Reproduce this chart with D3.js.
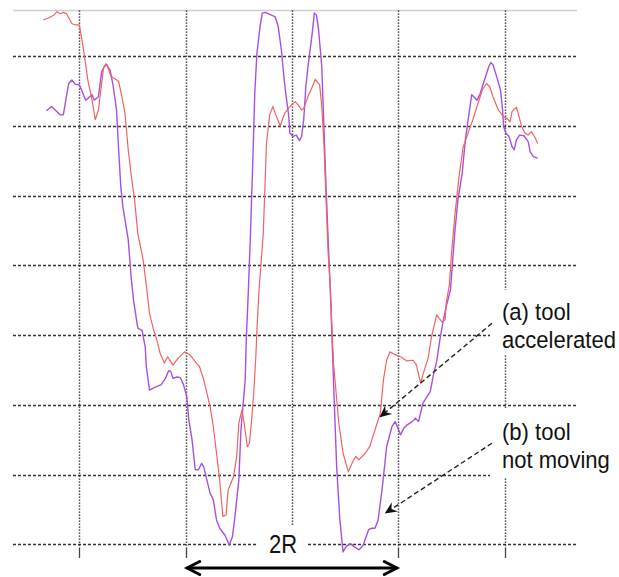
<!DOCTYPE html>
<html>
<head>
<meta charset="utf-8">
<script src="https://cdn.jsdelivr.net/npm/d3@7"></script>
<style>
  html, body { margin: 0; padding: 0; background: #fff; }
  svg { display: block; font-family: "Liberation Sans", Arial, sans-serif; }
</style>
</head>
<body>
<svg id="chart" width="619" height="577"></svg>
<script>
// [position, level] pairs (grid units)
const notMoving = [
  [-3.1,62.2],[-2.6,62.8],[-1.8,61.6],[-1.5,61.6],[-1.0,66.1],[-0.7,66.6],[-0.4,66.0],[0,65.9],
  [0.2,65.2],[0.6,63.7],[1.2,64.5],[1.4,63.7],[1.8,64.2],[2.1,67.8],[2.5,68.9],[2.9,68.0],
  [3.2,65.6],[3.5,62.3],[3.7,56.6],[3.9,51.3],[4.1,48.4],[4.6,43.7],[4.9,37.9],[5.1,35.0],
  [5.5,31.0],[5.9,30.7],[6.2,28.3],[6.3,25.5],[6.6,22.1],[7.1,22.5],[7.7,22.9],[8.1,23.8],
  [8.4,24.9],[8.6,24.8],[8.8,23.8],[9.2,24.0],[9.5,23.9],[9.8,22.9],[10.1,21.2],[10.3,17.8],
  [10.6,15.0],[10.9,10.7],[11.2,10.7],[11.5,11.6],[11.7,11.1],[12.0,9.2],[12.3,7.3],[12.6,6.4],
  [12.9,3.5],[13.2,2.3],[13.7,1.3],[14.1,-0.1],[14.4,1.1],[14.6,3.5],[15.0,9.2],[15.2,16.4],
  [15.4,20.0],[15.6,23.6],[15.7,29.3],[15.9,36.5],[16.1,44.7],[16.3,54.2],[16.5,64.7],[16.7,70.4],
  [17.0,74.3],[17.2,76.2],[17.5,76.3],[17.9,76.0],[18.4,75.7],[18.7,74.3],[19.0,70.9],[19.3,66.1],
  [19.7,61.3],[19.8,59.0],[20.1,58.5],[20.4,58.7],[20.7,57.9],[20.9,58.5],[21.1,60.9],[21.3,65.6],
  [21.5,68.5],[21.9,73.3],[22.1,76.2],[22.3,75.9],[22.5,73.8],[22.8,68.5],[23.0,59.9],[23.2,51.3],
  [23.4,43.7],[23.6,36.5],[23.9,23.6],[24.2,11.1],[24.5,3.5],[24.8,-1.1],[25.1,-0.3],[25.5,0.1],
  [25.8,-0.3],[26.3,-0.8],[26.7,-0.1],[27.2,2.1],[27.5,2.3],[27.8,2.3],[28.1,3.5],[28.5,8.3],
  [28.9,14.0],[29.4,16.9],[29.7,17.6],[29.9,16.9],[30.2,15.7],[30.5,16.6],[30.8,17.1],[31.3,17.6],
  [31.6,18.1],[31.9,17.6],[32.3,20.2],[32.7,21.2],[33.0,21.9],[33.3,24.3],[33.6,26.2],[33.9,29.3],
  [34.2,31.9],[34.5,34.1],[34.9,36.5],[35.3,44.6],[35.6,49.4],[36.0,53.2],[36.3,58.0],[36.6,61.3],
  [36.9,64.5],[37.1,64.2],[37.4,63.7],[37.7,64.7],[38.1,66.6],[38.5,68.5],[38.7,69.1],[38.9,68.8],
  [39.2,67.3],[39.6,65.2],[39.8,62.3],[39.9,59.9],[40.1,59.0],[40.4,58.5],[40.7,57.0],[40.9,56.6],
  [41.1,58.0],[41.4,58.7],[41.8,58.6],[42.2,57.8],[42.4,56.3],[42.7,55.6],[43.1,55.4]
];
const accelerated = [
  [-3.4,75.2],[-2.9,75.5],[-2.4,75.9],[-2.1,76.4],[-1.8,76.1],[-1.5,76.3],[-1.2,76.1],[-0.7,74.7],
  [-0.4,74.5],[0,74.5],[0.2,72.8],[0.5,69.9],[0.8,66.6],[1.2,63.7],[1.5,60.9],[1.8,62.3],
  [2.1,66.1],[2.3,68.5],[2.6,68.8],[3.0,67.1],[3.4,66.7],[3.7,66.4],[4.0,64.2],[4.3,61.8],
  [4.6,56.6],[4.9,52.7],[5.2,49.4],[5.5,44.6],[6.0,40.8],[6.3,37.2],[6.6,33.1],[7.0,30.7],
  [7.3,29.3],[7.6,27.4],[8.0,26.0],[8.3,26.9],[8.6,26.2],[8.8,25.7],[9.3,26.7],[9.9,27.6],
  [10.4,27.2],[11.0,26.0],[11.3,25.5],[11.7,23.6],[12.0,21.7],[12.3,19.7],[12.6,16.9],[12.9,13.1],
  [13.2,9.2],[13.5,4.0],[13.8,4.2],[14.0,7.8],[14.5,9.7],[14.8,12.6],[15.0,17.4],[15.3,19.3],
  [15.5,17.4],[15.8,14.0],[16.0,14.5],[16.2,17.8],[16.4,21.7],[16.6,26.9],[16.7,30.7],[16.9,36.5],
  [17.3,44.6],[17.6,57.5],[17.9,61.6],[18.2,62.8],[18.6,61.1],[18.9,60.0],[19.3,61.8],[19.8,62.8],
  [20.3,63.5],[20.6,63.0],[20.9,62.3],[21.1,62.5],[21.5,64.2],[21.9,65.6],[22.2,66.7],[22.6,65.9],
  [22.8,62.8],[23.0,57.5],[23.2,49.4],[23.4,41.7],[23.6,37.0],[23.9,26.0],[24.4,17.4],[24.8,13.1],
  [25.3,10.4],[25.7,11.8],[26.0,12.6],[26.3,12.1],[26.9,13.1],[27.3,14.0],[27.8,16.4],[28.3,18.8],
  [28.6,23.6],[28.9,26.4],[29.2,27.6],[29.7,27.2],[30.2,26.9],[30.8,26.3],[31.4,26.4],[31.7,25.7],
  [32.1,23.1],[32.3,24.3],[32.8,26.7],[33.1,29.6],[33.6,32.9],[34.1,31.9],[34.4,32.2],[34.5,34.6],
  [34.8,37.2],[35.0,41.7],[35.3,47.0],[35.7,52.7],[36.1,57.0],[36.6,59.2],[37.0,60.9],[37.5,63.3],
  [37.9,65.2],[38.3,66.1],[38.6,65.6],[38.9,64.2],[39.4,62.3],[39.9,61.3],[40.2,61.1],[40.5,60.6],
  [40.7,62.1],[41.1,62.7],[41.3,61.6],[41.6,59.9],[41.9,59.0],[42.2,58.7],[42.5,59.2],[42.8,58.5],
  [43.1,57.5]
];
const xGrid = [0, 10, 20, 30, 40];
const yGrid = [0, 10, 20, 30, 40, 50, 60, 70];
const span2R = [10, 30];
// annotation: text lines, arrow start and arrow tip in data units
const notes = [
  { lines: ["(a) tool", "accelerated"], from: [38.8, 31.7], to: [28.3, 18.3] },
  { lines: ["(b) tool", "not moving"], from: [38.8, 14.5], to: [28.8, 4.5] }
];

const svg = d3.select("#chart");
const frameLeft = 13, frameRight = 576, frameTop = 10.5, gridBottom = 548, tickBottom = 558;

const x = d3.scaleLinear().domain([0, 40]).range([79.3, 504.7]);
const y = d3.scaleLinear().domain([0, 70]).range([544.3, 56.3]);
const crisp = v => Math.round(v) + 0.5;

svg.append("line")
  .attr("x1", frameLeft).attr("x2", frameRight + 1).attr("y1", frameTop).attr("y2", frameTop)
  .attr("stroke", "#cfcfcf").attr("stroke-width", 1.5);

svg.append("g").selectAll("line").data(yGrid).join("line")
  .attr("x1", frameLeft).attr("x2", frameRight)
  .attr("y1", d => crisp(y(d))).attr("y2", d => crisp(y(d)))
  .attr("stroke", "#333").attr("stroke-width", 1.3)
  .attr("stroke-dasharray", "3,2");

svg.append("g").selectAll("line").data(xGrid).join("line")
  .attr("x1", d => crisp(x(d))).attr("x2", d => crisp(x(d)))
  .attr("y1", frameTop).attr("y2", gridBottom)
  .attr("stroke", "#222").attr("stroke-width", 1.5)
  .attr("stroke-dasharray", "1.3,1.7");

svg.append("g").selectAll("line").data(xGrid).join("line")
  .attr("x1", d => crisp(x(d))).attr("x2", d => crisp(x(d)))
  .attr("y1", gridBottom).attr("y2", tickBottom)
  .attr("stroke", "#444").attr("stroke-width", 1.3);

// white label backgrounds hide the grid behind the text
const boxes = [[490, 290, 129, 65], [490, 408, 129, 70], [256, 525, 52, 40]];
svg.append("g").selectAll("rect").data(boxes).join("rect")
  .attr("x", d => d[0]).attr("y", d => d[1]).attr("width", d => d[2]).attr("height", d => d[3])
  .attr("fill", "#fff");

const line = d3.line().x(d => x(d[0])).y(d => y(d[1]));

svg.append("path").datum(notMoving)
  .attr("d", line).attr("fill", "none")
  .attr("stroke", "#a650e2").attr("stroke-width", 1.4).attr("stroke-linejoin", "round");

svg.append("path").datum(accelerated)
  .attr("d", line).attr("fill", "none")
  .attr("stroke", "#f26262").attr("stroke-width", 1.2).attr("stroke-linejoin", "round");

// dashed annotation arrows
svg.append("defs").append("marker")
  .attr("id", "head").attr("viewBox", "-12 -6 14 12")
  .attr("refX", 0).attr("refY", 0)
  .attr("markerWidth", 14).attr("markerHeight", 12)
  .attr("markerUnits", "userSpaceOnUse").attr("orient", "auto")
  .append("path").attr("d", "M1,0 L-11,-5.5 L-7,0 L-11,5.5 Z").attr("fill", "#111");

const ann = svg.append("g").selectAll("g").data(notes).join("g");
ann.append("line")
  .attr("x1", d => x(d.from[0])).attr("y1", d => y(d.from[1]))
  .attr("x2", d => x(d.to[0])).attr("y2", d => y(d.to[1]))
  .attr("stroke", "#222").attr("stroke-width", 1.4)
  .attr("stroke-dasharray", "5,3").attr("marker-end", "url(#head)");
// the source text is slightly condensed, so squeeze it horizontally
ann.append("text")
  .attr("transform", d => `translate(502,${y(d.from[1]) - 3.5}) scale(0.9,1)`)
  .attr("font-size", 24.5).attr("fill", "#111")
  .selectAll("tspan").data(d => d.lines).join("tspan")
  .attr("x", 0).attr("dy", (d, i) => i === 0 ? 0 : 28.3)
  .text(d => d);

// 2R span arrow
const ay = 568;
const x0 = x(span2R[0]), x1 = x(span2R[1]);
svg.append("line")
  .attr("x1", x0 + 1).attr("x2", x1 - 1).attr("y1", ay).attr("y2", ay)
  .attr("stroke", "#000").attr("stroke-width", 3);
svg.append("path")
  .attr("d", `M${x0 + 14},${ay - 6.5} L${x0 + 1.5},${ay} L${x0 + 14},${ay + 6.5}`
    + ` M${x1 - 14},${ay - 6.5} L${x1 - 1.5},${ay} L${x1 - 14},${ay + 6.5}`)
  .attr("fill", "none").attr("stroke", "#000").attr("stroke-width", 3)
  .attr("stroke-linecap", "round").attr("stroke-linejoin", "miter");
svg.append("text")
  .attr("transform", `translate(${(x0 + x1) / 2 - 23},553.3) scale(0.88,1)`)
  .attr("font-size", 25).attr("fill", "#111")
  .text("2R");
</script>
</body>
</html>
